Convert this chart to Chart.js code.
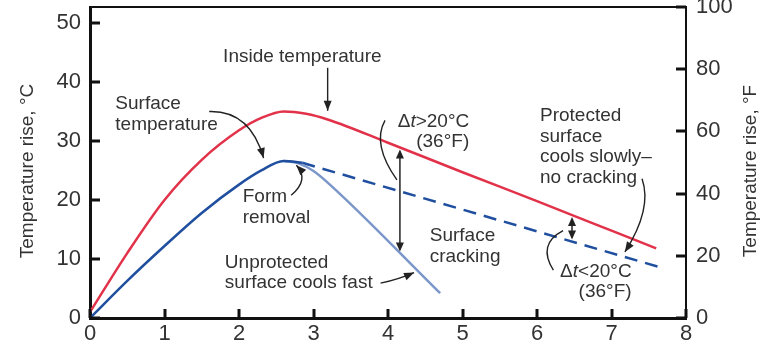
<!DOCTYPE html>
<html>
<head>
<meta charset="utf-8">
<script src="https://cdn.jsdelivr.net/npm/chart.js@4.4.0/dist/chart.umd.min.js"></script>
<style>
  html, body { margin: 0; padding: 0; background: #fff; }
  #wrap { width: 768px; height: 349px; }
</style>
</head>
<body>
<div id="wrap"><canvas id="tempChart" width="768" height="349"></canvas></div>
<script>
// Time (days) and temperature rise (°C) for each curve
const insideTime = [0, 0.5, 1, 1.5, 2, 2.3, 2.6, 2.9, 3.2, 4, 5, 6, 7, 7.6];
const insideTemp = [1, 11, 20, 26.8, 31.8, 33.9, 35, 34.6, 33.6, 29.7, 24.7, 19.8, 14.8, 11.8];

const surfaceTime = [0, 0.5, 1, 1.5, 2, 2.3, 2.6, 2.85];
const surfaceTemp = [0, 6.3, 12.2, 17.8, 22.6, 25, 26.6, 26.3];

const unprotectedTime = [2.6, 2.8, 3.0, 3.22, 4.7];
const unprotectedTemp = [26.6, 26.2, 24.9, 22.6, 4.2];

const protectedTime = [2.85, 7.65];
const protectedTemp = [26.3, 8.6];

// Axis ticks
const timeTicks = [0, 1, 2, 3, 4, 5, 6, 7, 8];
const celsiusTicks = [0, 10, 20, 30, 40, 50];
const fahrenheitTicks = [0, 20, 40, 60, 80, 100];
const timeMax = 8;
const celsiusMax = 52.7;
const fahrenheitMax = 100;

const RED = '#e2324a';
const BLUE = '#1f4f9e';
const LIGHT_BLUE = '#7b96c9';
const INK = '#333';
const FAMILY = '"Liberation Sans", Arial, sans-serif';

function pts(xs, ys) {
    return xs.map((x, i) => ({ x: x, y: ys[i] }));
}

// linear lookup on a curve, used to pin the Δt arrows onto the lines
function valueAt(xs, ys, x) {
    for (let i = 1; i < xs.length; i++) {
        if (x <= xs[i]) {
            const t = (x - xs[i - 1]) / (xs[i] - xs[i - 1]);
            return ys[i - 1] + t * (ys[i] - ys[i - 1]);
        }
    }
    return ys[ys.length - 1];
}

// Callout texts, placed in data units (x in days, y in °C of the first line)
const notes = [
    { lines: ['Inside temperature'], x: 2.85, y: 44.2, align: 'center' },
    { lines: ['Surface', 'temperature'], x: 0.34, y: 36.3, align: 'left' },
    { lines: ['Form', 'removal'], x: 2.05, y: 20.5, align: 'left' },
    { lines: ['Unprotected', 'surface cools fast'], x: 1.81, y: 9.4, align: 'left' },
    { lines: ['Surface', 'cracking'], x: 4.56, y: 13.9, align: 'left' },
    { lines: ['Protected', 'surface', 'cools slowly\u2013', 'no cracking'], x: 6.04, y: 34.2, align: 'left' },
    { lines: ['\u0394t>20\u00b0C', '(36\u00b0F)'], x: 5.09, y: 33.3, align: 'right' },
    { lines: ['\u0394t<20\u00b0C', '(36\u00b0F)'], x: 7.27, y: 7.9, align: 'right' }
];

// Leader lines: from, control, to (data units); head = arrowhead at the end
const leaders = [
    { from: [3.19, 42.4], ctrl: [3.19, 38], to: [3.19, 35.1], head: true },
    { from: [1.6, 35.0], ctrl: [2.15, 35.2], to: [2.33, 27.1], head: true },
    { from: [2.7, 20.8], ctrl: [2.95, 23.5], to: [2.77, 25.9], head: true },
    { from: [3.9, 5.9], ctrl: [4.15, 6.6], to: [4.35, 7.7], head: true },
    { from: [3.96, 33.5], ctrl: [3.78, 29.5], to: [4.12, 23.4], head: false },
    { from: [7.41, 23.6], ctrl: [7.55, 18.5], to: [7.18, 11.2], head: true },
    { from: [6.22, 8.1], ctrl: [6.0, 12.5], to: [6.35, 14.8], head: false }
];

// Double-headed Δt arrows between the inside and surface curves
const gaps = [
    { x: 4.16, top: 'inside', bottom: 'unprotected' },
    { x: 6.47, top: 'inside', bottom: 'protected' }
];
const curves = {
    inside: [insideTime, insideTemp],
    unprotected: [unprotectedTime, unprotectedTemp],
    protected: [protectedTime, protectedTemp]
};

function arrowHead(ctx, x, y, angle, len, half) {
    ctx.save();
    ctx.translate(x, y);
    ctx.rotate(angle);
    ctx.beginPath();
    ctx.moveTo(0, 0);
    ctx.lineTo(-len, -half);
    ctx.lineTo(-len, half);
    ctx.closePath();
    ctx.fill();
    ctx.restore();
}

// draws text, setting the "t" after Δ in italics
function drawLine(ctx, text, x, y, align) {
    const size = 19;
    let parts = [[text, false]];
    if (text.startsWith('\u0394t')) {
        parts = [['\u0394', false], ['t', true], [text.slice(2), false]];
    }
    let width = 0;
    parts.forEach(p => {
        ctx.font = (p[1] ? 'italic ' : '') + size + 'px ' + FAMILY;
        p.push(ctx.measureText(p[0]).width);
        width += p[2];
    });
    let start = x;
    if (align === 'center') start = x - width / 2;
    if (align === 'right') start = x - width;
    ctx.textAlign = 'left';
    ctx.textBaseline = 'middle';
    parts.forEach(p => {
        ctx.font = (p[1] ? 'italic ' : '') + size + 'px ' + FAMILY;
        ctx.fillText(p[0], start, y);
        start += p[2];
    });
}

const calloutPlugin = {
    id: 'callouts',
    afterDraw(chart) {
        const ctx = chart.ctx;
        const sx = chart.scales.x;
        const sy = chart.scales.y;
        const sf = chart.scales.yF;
        const area = chart.chartArea;
        const P = (x, y) => [sx.getPixelForValue(x), sy.getPixelForValue(y)];

        ctx.save();

        // closing top edge of the frame
        ctx.strokeStyle = '#111';
        ctx.lineWidth = 2;
        ctx.beginPath();
        ctx.moveTo(area.left, area.top);
        ctx.lineTo(area.right, area.top);
        ctx.stroke();

        // tick marks pointing into the plot
        ctx.lineWidth = 3;
        ctx.beginPath();
        sx.ticks.forEach(t => {
            const x = Math.round(sx.getPixelForValue(t.value));
            ctx.moveTo(x, area.bottom);
            ctx.lineTo(x, area.bottom - 9);
        });
        sy.ticks.forEach(t => {
            const y = Math.round(sy.getPixelForValue(t.value));
            ctx.moveTo(area.left, y);
            ctx.lineTo(area.left + 10, y);
        });
        sf.ticks.forEach(t => {
            const y = Math.round(sf.getPixelForValue(t.value));
            ctx.moveTo(area.right, y);
            ctx.lineTo(area.right - 10, y);
        });
        ctx.stroke();

        // axis titles
        ctx.fillStyle = INK;
        ctx.font = '19px ' + FAMILY;
        ctx.textAlign = 'center';
        ctx.textBaseline = 'middle';
        [[28, 'Temperature rise, \u00b0C'], [751, 'Temperature rise, \u00b0F']].forEach(a => {
            ctx.save();
            ctx.translate(a[0], 171);
            ctx.rotate(-Math.PI / 2);
            ctx.fillText(a[1], 0, 0);
            ctx.restore();
        });

        // callout texts
        notes.forEach(n => {
            const p = P(n.x, n.y);
            n.lines.forEach((line, i) => drawLine(ctx, line, p[0], p[1] + i * 20.5, n.align));
        });

        // leader lines
        ctx.strokeStyle = '#222';
        ctx.fillStyle = '#222';
        ctx.lineWidth = 1.4;
        leaders.forEach(l => {
            const a = P(l.from[0], l.from[1]);
            const c = P(l.ctrl[0], l.ctrl[1]);
            const b = P(l.to[0], l.to[1]);
            ctx.beginPath();
            ctx.moveTo(a[0], a[1]);
            ctx.quadraticCurveTo(c[0], c[1], b[0], b[1]);
            ctx.stroke();
            if (l.head) {
                arrowHead(ctx, b[0], b[1], Math.atan2(b[1] - c[1], b[0] - c[0]), 10, 4);
            }
        });

        // Δt double arrows
        ctx.lineWidth = 1.5;
        gaps.forEach(g => {
            const yTop = valueAt(curves[g.top][0], curves[g.top][1], g.x);
            const yBot = valueAt(curves[g.bottom][0], curves[g.bottom][1], g.x);
            const a = P(g.x, yTop);
            const b = P(g.x, yBot);
            ctx.beginPath();
            ctx.moveTo(a[0], a[1] + 4);
            ctx.lineTo(b[0], b[1] - 4);
            ctx.stroke();
            arrowHead(ctx, a[0], a[1] + 2, -Math.PI / 2, 9, 4);
            arrowHead(ctx, b[0], b[1] - 2, Math.PI / 2, 9, 4);
        });

        ctx.restore();
    }
};

const tickFont = { size: 22, family: FAMILY };

new Chart(document.getElementById('tempChart').getContext('2d'), {
    type: 'scatter',
    data: {
        datasets: [
            {
                label: 'Inside temperature',
                data: pts(insideTime, insideTemp),
                borderColor: RED,
                borderWidth: 2.5,
                showLine: true,
                pointRadius: 0,
                cubicInterpolationMode: 'monotone'
            },
            {
                label: 'Surface temperature',
                data: pts(surfaceTime, surfaceTemp),
                borderColor: BLUE,
                borderWidth: 2.5,
                showLine: true,
                pointRadius: 0,
                cubicInterpolationMode: 'monotone'
            },
            {
                label: 'Unprotected surface',
                data: pts(unprotectedTime, unprotectedTemp),
                borderColor: LIGHT_BLUE,
                borderWidth: 2.5,
                showLine: true,
                pointRadius: 0,
                cubicInterpolationMode: 'monotone'
            },
            {
                label: 'Protected surface',
                data: pts(protectedTime, protectedTemp),
                borderColor: BLUE,
                borderWidth: 2.5,
                borderDash: [13, 8],
                showLine: true,
                pointRadius: 0
            }
        ]
    },
    options: {
        responsive: false,
        animation: false,
        devicePixelRatio: 1,
        layout: { padding: { top: 7, left: 0, right: 0, bottom: 0 } },
        plugins: {
            legend: { display: false },
            tooltip: { enabled: false }
        },
        scales: {
            x: {
                type: 'linear',
                position: 'bottom',
                min: 0,
                max: timeMax,
                afterBuildTicks: s => { s.ticks = timeTicks.map(v => ({ value: v })); },
                afterFit: s => { s.height = 31; s.paddingLeft = 0; s.paddingRight = 0; },
                grid: { display: false, drawTicks: false },
                border: { width: 3, color: '#111' },
                ticks: { font: tickFont, color: INK, padding: 3, maxRotation: 0, autoSkip: false }
            },
            y: {
                type: 'linear',
                position: 'left',
                min: 0,
                max: celsiusMax,
                afterBuildTicks: s => { s.ticks = celsiusTicks.map(v => ({ value: v })); },
                afterFit: s => { s.width = 90; s.paddingTop = 0; s.paddingBottom = 0; },
                grid: { display: false, drawTicks: false },
                border: { width: 3, color: '#111' },
                ticks: { font: tickFont, color: INK, padding: 9 }
            },
            yF: {
                type: 'linear',
                position: 'right',
                min: 0,
                max: fahrenheitMax,
                afterBuildTicks: s => { s.ticks = fahrenheitTicks.map(v => ({ value: v })); },
                afterFit: s => { s.width = 82; s.paddingTop = 0; s.paddingBottom = 0; },
                grid: { display: false, drawTicks: false },
                border: { width: 2, color: '#111' },
                ticks: { font: tickFont, color: INK, padding: 10 }
            }
        }
    },
    plugins: [calloutPlugin]
});
</script>
</body>
</html>
